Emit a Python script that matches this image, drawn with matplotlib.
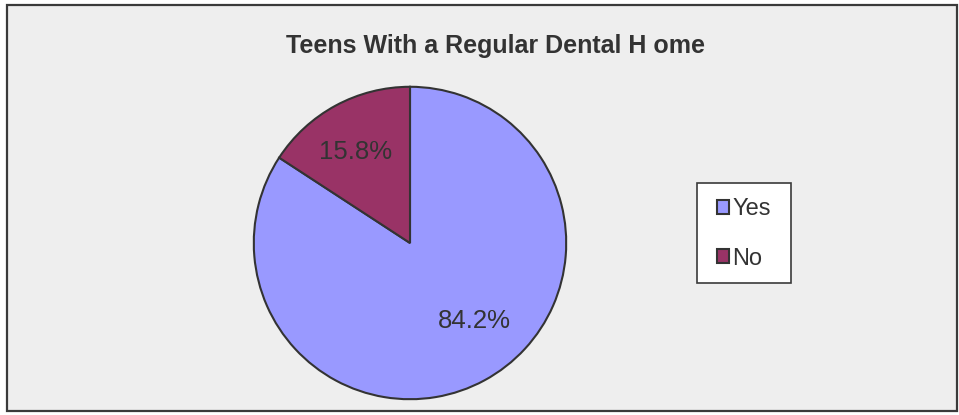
import matplotlib
matplotlib.use("Agg")
import matplotlib.pyplot as plt
from matplotlib.patches import Rectangle, Patch
import numpy as np

plt.rcParams['font.family'] = ['Liberation Sans', 'DejaVu Sans']

title = "Teens With a Regular Dental H ome"
categories = ["Yes", "No"]
values = [84.2, 15.8]
colors = ["#9999ff", "#993366"]
edge = "#333333"
text_color = "#333333"

W, H = 959, 415
fig = plt.figure(figsize=(W / 100, H / 100), dpi=100)
fig.patch.set_facecolor("white")

# chart area background with frame
fig.patches.append(Rectangle((7 / W, 4 / H), 950 / W, 406 / H, transform=fig.transFigure,
                             facecolor="#eeeeee", edgecolor="#3a3a3a", linewidth=1.6, zorder=-5))

fig.text(495 / W, 1 - 46 / H, title, ha="center", va="center", fontsize=18,
         fontweight="bold", color=text_color)

cx, cy, r = 410, 243, 157
ax = fig.add_axes([(cx - r) / W, (H - cy - r) / H, 2 * r / W, 2 * r / H], zorder=2)
ax.patch.set_visible(False)
wedges, texts, autotexts = ax.pie(values, colors=colors, startangle=90, counterclock=False,
                                  autopct="%.1f%%", pctdistance=0.67,
                                  wedgeprops=dict(edgecolor=edge, linewidth=1.5),
                                  textprops=dict(fontsize=18.5, color=text_color))
ax.set_xlim(-1.005, 1.005)
ax.set_ylim(-1.005, 1.005)
ax.set_aspect("equal")

# Excel-style placement of the slice labels
for txt, deg, rad in zip(autotexts, [-50.5, 121.0], [0.65, 0.68]):
    a = np.deg2rad(deg)
    txt.set_position((rad * np.cos(a), rad * np.sin(a)))

# legend box drawn as its own white panel
fig.patches.append(Rectangle((697 / W, 1 - 283 / H), 94 / W, 100 / H, transform=fig.transFigure,
                             facecolor="white", edgecolor="#3a3a3a", linewidth=1.2, zorder=1))
handles = [Patch(facecolor=c, edgecolor=edge, linewidth=1.5) for c in colors]
leg = fig.legend(handles, categories, loc="center", bbox_to_anchor=(744 / W, 1 - 234 / H),
                 frameon=False, fontsize=17,
                 handlelength=0.5, handleheight=0.5,
                 handletextpad=0.15, labelspacing=1.15, borderpad=0, borderaxespad=0)
leg.set_zorder(3)
for t in leg.get_texts():
    t.set_color(text_color)

fig.savefig("out.png", dpi=100, facecolor="white")
